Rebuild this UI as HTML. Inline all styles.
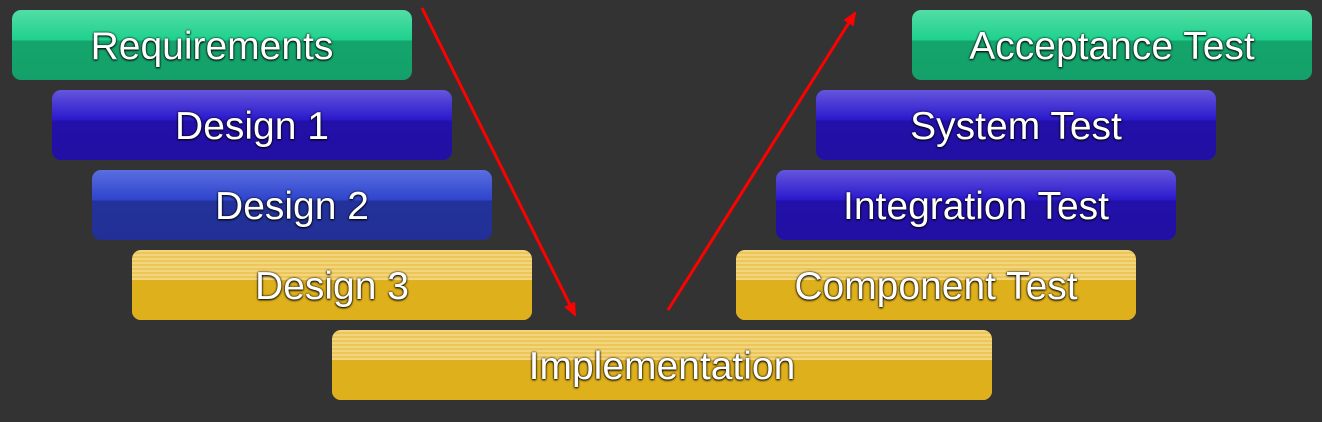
<!DOCTYPE html>
<html><head><style>
body{margin:0;width:1322px;height:422px;background:#333333;position:relative;overflow:hidden;font-family:"Liberation Sans",sans-serif}
.b{position:absolute;width:400px;height:70px;border-radius:9px;color:#fff;font-size:39px;line-height:73px;text-align:center;text-shadow:0 0 2px #000,0 1px 2px #000}
.g{background:linear-gradient(#52dea5 0,#1fd18e 30px,#15a56c 31px,#14a06a 100%)}
.p{background:linear-gradient(#6456dd 0,#2a18cc 30px,#2210a8 31px,#2210a4 100%)}
.bl{background:linear-gradient(#5a6ee0 0,#2e44cc 30px,#22329a 31px,#223096 100%)}
.y{background:repeating-linear-gradient(#f3d57e 0 2px,#ecc659 2px 4px);}
.y::after{content:"";position:absolute;left:0;right:0;top:30px;bottom:0;background:#deb01c;border-radius:0 0 9px 9px}
.y span{position:relative;z-index:1}
</style></head><body>
<div class="b g" style="left:12px;top:10px">Requirements</div>
<div class="b p" style="left:52px;top:90px">Design 1</div>
<div class="b bl" style="left:92px;top:170px">Design 2</div>
<div class="b y" style="left:132px;top:250px"><span>Design 3</span></div>
<div class="b y" style="left:332px;top:330px;width:660px"><span>Implementation</span></div>
<div class="b y" style="left:736px;top:250px"><span>Component Test</span></div>
<div class="b p" style="left:776px;top:170px">Integration Test</div>
<div class="b p" style="left:816px;top:90px">System Test</div>
<div class="b g" style="left:912px;top:10px">Acceptance Test</div>
<svg width="1322" height="422" style="position:absolute;left:0;top:0">
<defs><marker id="m" markerWidth="14" markerHeight="12" refX="12" refY="6" orient="auto" markerUnits="userSpaceOnUse"><path d="M0,0L14,6L0,12z" fill="#f00"/></marker></defs>
<line x1="422" y1="8" x2="575" y2="315" stroke="#f00" stroke-width="3" marker-end="url(#m)"/>
<line x1="668" y1="310" x2="855" y2="13" stroke="#f00" stroke-width="3" marker-end="url(#m)"/>
</svg>
</body></html>
